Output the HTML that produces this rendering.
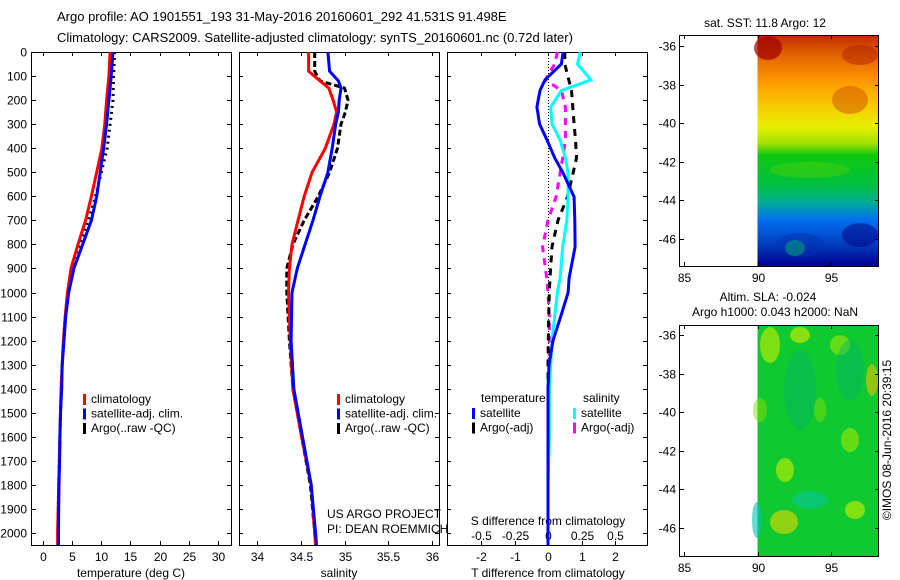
<!DOCTYPE html>
<html><head><meta charset="utf-8">
<style>
body{margin:0;background:#fff;}
svg{display:block;font-family:"Liberation Sans",sans-serif;}
text{font-size:12px;fill:#000;}
</style></head>
<body>
<svg id="c" width="900" height="580" viewBox="0 0 900 580" xmlns="http://www.w3.org/2000/svg">
<defs>
<linearGradient id="sstg" x1="0" y1="0" x2="0" y2="1">
<stop offset="0" stop-color="#c02800"/><stop offset="0.08" stop-color="#e06000"/>
<stop offset="0.2" stop-color="#ff9800"/><stop offset="0.3" stop-color="#f8c800"/>
<stop offset="0.4" stop-color="#e8f000"/><stop offset="0.47" stop-color="#a0e000"/>
<stop offset="0.52" stop-color="#10c810"/><stop offset="0.65" stop-color="#00c040"/>
<stop offset="0.72" stop-color="#00b090"/><stop offset="0.8" stop-color="#0070f0"/>
<stop offset="0.9" stop-color="#0040c0"/><stop offset="1" stop-color="#000090"/></linearGradient>
</defs>
<text x="57" y="21" style="font-size:13px">Argo profile: AO 1901551_193 31-May-2016 20160601_292 41.531S 91.498E</text>
<text x="57" y="42" style="font-size:13px">Climatology: CARS2009. Satellite-adjusted climatology: synTS_20160601.nc (0.72d later)</text>
<g id="g"></g>
</svg>
<script>
// ---- data ----
const depths = [0,100,200,300,400,500,600,700,800,900,1000,1100,1200,1300,1400,1500,1600,1700,1800,1900,2000,2050];
const tempClim = [11.5,11.3,10.9,10.6,10.1,9.2,8.3,7.3,6.0,4.8,4.2,3.8,3.5,3.3,3.1,3.0,2.9,2.8,2.7,2.6,2.5,2.5];
const tempSat  = [12.0,11.7,11.3,10.9,10.4,9.8,9.2,8.3,6.8,5.3,4.4,3.9,3.6,3.3,3.2,3.0,2.9,2.85,2.75,2.7,2.65,2.65];
const tempArgo = [12.3,12.1,12.0,11.5,11.0,10.0,9.0,7.8,6.3,5.0,4.2,3.8,3.5,3.3,3.1,3.0,2.9,2.8,2.7,2.6,2.6,2.6];

const salDepths = [0,80,120,150,200,250,300,400,500,600,700,800,900,1000,1200,1400,1600,1800,2000,2050];
const salClim = [34.59,34.59,34.72,34.82,34.87,34.91,34.88,34.78,34.63,34.54,34.47,34.40,34.37,34.36,34.38,34.41,34.51,34.62,34.66,34.67];
const salSat  = [34.81,34.83,34.93,34.96,34.94,34.93,34.90,34.86,34.81,34.72,34.64,34.55,34.46,34.40,34.39,34.42,34.52,34.62,34.67,34.68];
const salArgo = [34.66,34.66,34.72,35.00,35.04,35.01,34.96,34.92,34.83,34.70,34.54,34.41,34.34,34.34,34.37,34.41,34.51,34.61,34.66,34.67];

const diffDepths = [0,50,116,160,229,300,366,440,503,603,700,810,940,1000,1100,1200,1300,1400,1600,1800,2000,2050];
const dTsat  = [0.45,0.40,-0.09,-0.24,-0.33,-0.25,-0.03,0.20,0.45,0.78,0.80,0.81,0.63,0.60,0.38,0.15,0.03,0.0,0.0,0.0,0.0,0.0];
const dTargo = [0.50,0.50,0.62,0.70,0.74,0.78,0.82,0.85,0.75,0.58,0.30,0.12,0.06,0.04,0.02,0.01,0.0,0.0,0.0,0.0,0.0,0.0];
const dSsat  = [0.24,0.22,0.32,0.10,0.02,0.03,0.09,0.13,0.15,0.15,0.14,0.11,0.09,0.07,0.05,0.03,0.02,0.01,0.01,0.0,0.0,0.0];
const dSargo = [0.07,0.05,-0.02,0.10,0.13,0.13,0.13,0.11,0.09,0.06,0.0,-0.04,-0.01,0.0,0.01,0.01,0.01,0.0,0.0,0.0,0.0,0.0];

const tempTicks = [0,5,10,15,20,25,30];
const salTicks = [34,34.5,35,35.5,36];
const depthTicks = [0,100,200,300,400,500,600,700,800,900,1000,1100,1200,1300,1400,1500,1600,1700,1800,1900,2000];
const tdTicks = [-2,-1,0,1,2];
const sdTicks = [-0.5,-0.25,0,0.25,0.5];
const latTicks = [-36,-38,-40,-42,-44,-46];
const lonTicks = [85,90,95];

// ---- scales ----
const yD = d => 52 + d*0.2405;
const xT = t => 43 + t*5.833;
const xS = s => 257 + (s-34)*87.5;
const xTd = t => 548 + t*33.5;
const xSd = s => 548 + s*134;
const lonX = l => 684 + (l-85)*14.7;
const lat1 = l => 46 + (-36-l)*19.25;
const lat2 = l => 335 + (-36-l)*19.3;

const NS="http://www.w3.org/2000/svg";
const G=document.getElementById('g');
function mk(tag,attrs,parent){const e=document.createElementNS(NS,tag);for(const k in attrs)e.setAttribute(k,attrs[k]);(parent||G).appendChild(e);return e;}
function txt(x,y,s,anchor){const e=mk('text',{x:x,y:y,'text-anchor':anchor||'start'});e.textContent=s;return e;}
function line(xs,ys,xf,color,dash,w){
  let d='';for(let i=0;i<xs.length;i++){d+=(i?'L':'M')+xf(xs[i]).toFixed(1)+','+yD(ys[i]).toFixed(1);}
  const p=mk('path',{d:d,fill:'none',stroke:color,'stroke-width':w||3});
  if(dash)p.setAttribute('stroke-dasharray',dash);
  return p;
}
function frame(x0,x1,y0,y1){return mk('rect',{x:x0,y:y0,width:x1-x0,height:y1-y0,fill:'none',stroke:'#000','stroke-width':1});}
function tick(x1,y1,x2,y2){return mk('line',{x1:x1,y1:y1,x2:x2,y2:y2,stroke:'#000','stroke-width':1});}

// ---- panel 1 temperature ----
let f=frame(31.5,231.5,52.5,545.5);


depthTicks.forEach(d=>{const y=Math.round(yD(d))+0.5;tick(31,y,36,y);tick(227,y,231,y);tick(239,y,243,y);tick(435,y,439,y);tick(447,y,451,y);tick(643,y,647,y);
  const t=txt(27,y+4,String(d),'end');
  
  });
tempTicks.forEach(v=>{const x=Math.round(xT(v))+0.5;tick(x,545,x,541);tick(x,52,x,56);
  const t=txt(x,561,String(v),'middle');
  
  });
let e=txt(131,577,'temperature (deg C)','middle');


e=line(tempArgo,depths,xT,'#000','2,4',3);


e=line(tempClim,depths,xT,'#f00',null,3);


e=line(tempSat,depths,xT,'#00f',null,3);



function legend(x,y,items,name){
  items.forEach((it,i)=>{const yy=y+i*14.5;
    const r=mk('rect',{x:x,y:yy-9,width:3,height:11,fill:it[1]});
    
    
    const t=txt(x+8,yy,it[0]);
    
    });
}
legend(83,403,[['climatology','#f00'],['satellite-adj. clim.','#00f'],['Argo(..raw -QC)','#000']],'temp-legend');

// ---- panel 2 salinity ----
f=frame(239.5,439.5,52.5,545.5);


salTicks.forEach(v=>{const x=Math.round(xS(v))+0.5;tick(x,545,x,541);tick(x,52,x,56);
  const t=txt(x,561,String(v),'middle');
  
  });
e=txt(339,577,'salinity','middle');


e=line(salArgo,salDepths,xS,'#000','6,3',3);


e=line(salClim,salDepths,xS,'#f00',null,3);


e=line(salSat,salDepths,xS,'#00f',null,3);


legend(337,403,[['climatology','#f00'],['satellite-adj. clim.','#00f'],['Argo(..raw -QC)','#000']],'sal-legend');
e=txt(327,518,'US ARGO PROJECT');


e=txt(327,533,'PI: DEAN ROEMMICH');



// ---- panel 3 differences ----
f=frame(447.5,647.5,52.5,545.5);


e=mk('line',{x1:548.5,y1:52,x2:548.5,y2:545,stroke:'#000','stroke-width':1,'stroke-dasharray':'1,2'});


tdTicks.forEach(v=>{const x=Math.round(xTd(v))+0.5;tick(x,52,x,56);
  const t=txt(x,561,String(v),'middle');
  
  });
sdTicks.forEach(v=>{const x=Math.round(xSd(v))+0.5;tick(x,545,x,541);
  const t=txt(x,540,String(v),'middle');
  
  });
e=txt(548,525,'S difference from climatology','middle');


e=txt(548,577,'T difference from climatology','middle');


e=line(dSargo,diffDepths,xSd,'#f0f','7,6',3);


e=line(dTargo,diffDepths,xTd,'#000','7,6',3);


e=line(dSsat,diffDepths,xSd,'#0ff',null,3);


e=line(dTsat,diffDepths,xTd,'#00f',null,3);


e=txt(481,402,'temperature');


e=txt(583,402,'salinity');


legend(472,417,[['satellite','#00f'],['Argo(-adj)','#000']],'tdiff-legend');
legend(573,417,[['satellite','#0ff'],['Argo(-adj)','#f0f']],'sdiff-legend');

// ---- maps ----
function mapAxes(y0,y1,latf,name){
  const fr=frame(679.5,878.5,y0+0.5,y1+0.5);
  
  
  latTicks.forEach(l=>{const y=Math.round(latf(l))+0.5;tick(680,y,684,y);tick(875,y,879,y);
    const t=txt(676,y+4,String(l),'end');
    
    });
  lonTicks.forEach(l=>{const x=Math.round(lonX(l))+0.5;tick(x,y1,x,y1-4);tick(x,y0,x,y0+4);
    const t=txt(x,y1+16,String(l),'middle');
    
    });
}
// SST map
e=mk('rect',{x:lonX(90),y:35,width:878-lonX(90),height:231,fill:'url(#sstg)'});


[[768,48,14,12,'#a00000',0.7],[850,100,18,14,'#d05000',0.5],[860,55,18,10,'#b02000',0.5],[810,170,40,8,'#60d800',0.35],[800,245,24,12,'#0030b0',0.45],[795,248,10,8,'#00b070',0.5],[860,235,18,12,'#000080',0.5]].forEach(b=>{
  const el=mk('ellipse',{cx:b[0],cy:b[1],rx:b[2],ry:b[3],fill:b[4],opacity:b[5]});
  
  });
mapAxes(35,266,lat1,'sst-map');
e=txt(765,27,'sat. SST: 11.8 Argo: 12','middle');


// SLA map
e=mk('rect',{x:lonX(90),y:325,width:878-lonX(90),height:231,fill:'#10c830'});


[[770,345,10,18,'#c8f000',0.6],[800,335,10,8,'#d8f000',0.6],[840,345,10,10,'#b8f000',0.5],[872,380,6,16,'#f0c000',0.6],[850,370,14,30,'#00b070',0.4],[800,390,16,40,'#00b070',0.4],[785,470,9,12,'#c8f000',0.6],[784,522,14,12,'#e8d800',0.6],[855,510,10,9,'#d0f000',0.6],[850,440,9,12,'#b8f000',0.5],[810,500,18,9,'#00c8b0',0.5],[757,520,5,18,'#00c0b0',0.6],[820,410,6,12,'#80e000',0.5],[760,410,7,12,'#80e000',0.5]].forEach(b=>{
  const el=mk('ellipse',{cx:b[0],cy:b[1],rx:b[2],ry:b[3],fill:b[4],opacity:b[5]});
  
  });
mapAxes(325,556,lat2,'sla-map');
e=txt(768,301,'Altim. SLA: -0.024','middle');


e=txt(775,316,'Argo h1000: 0.043 h2000: NaN','middle');


e=txt(0,0,'©IMOS 08-Jun-2016 20:39:15','middle');
e.setAttribute('transform','translate(891,440) rotate(-90)');


</script>
</body></html>
